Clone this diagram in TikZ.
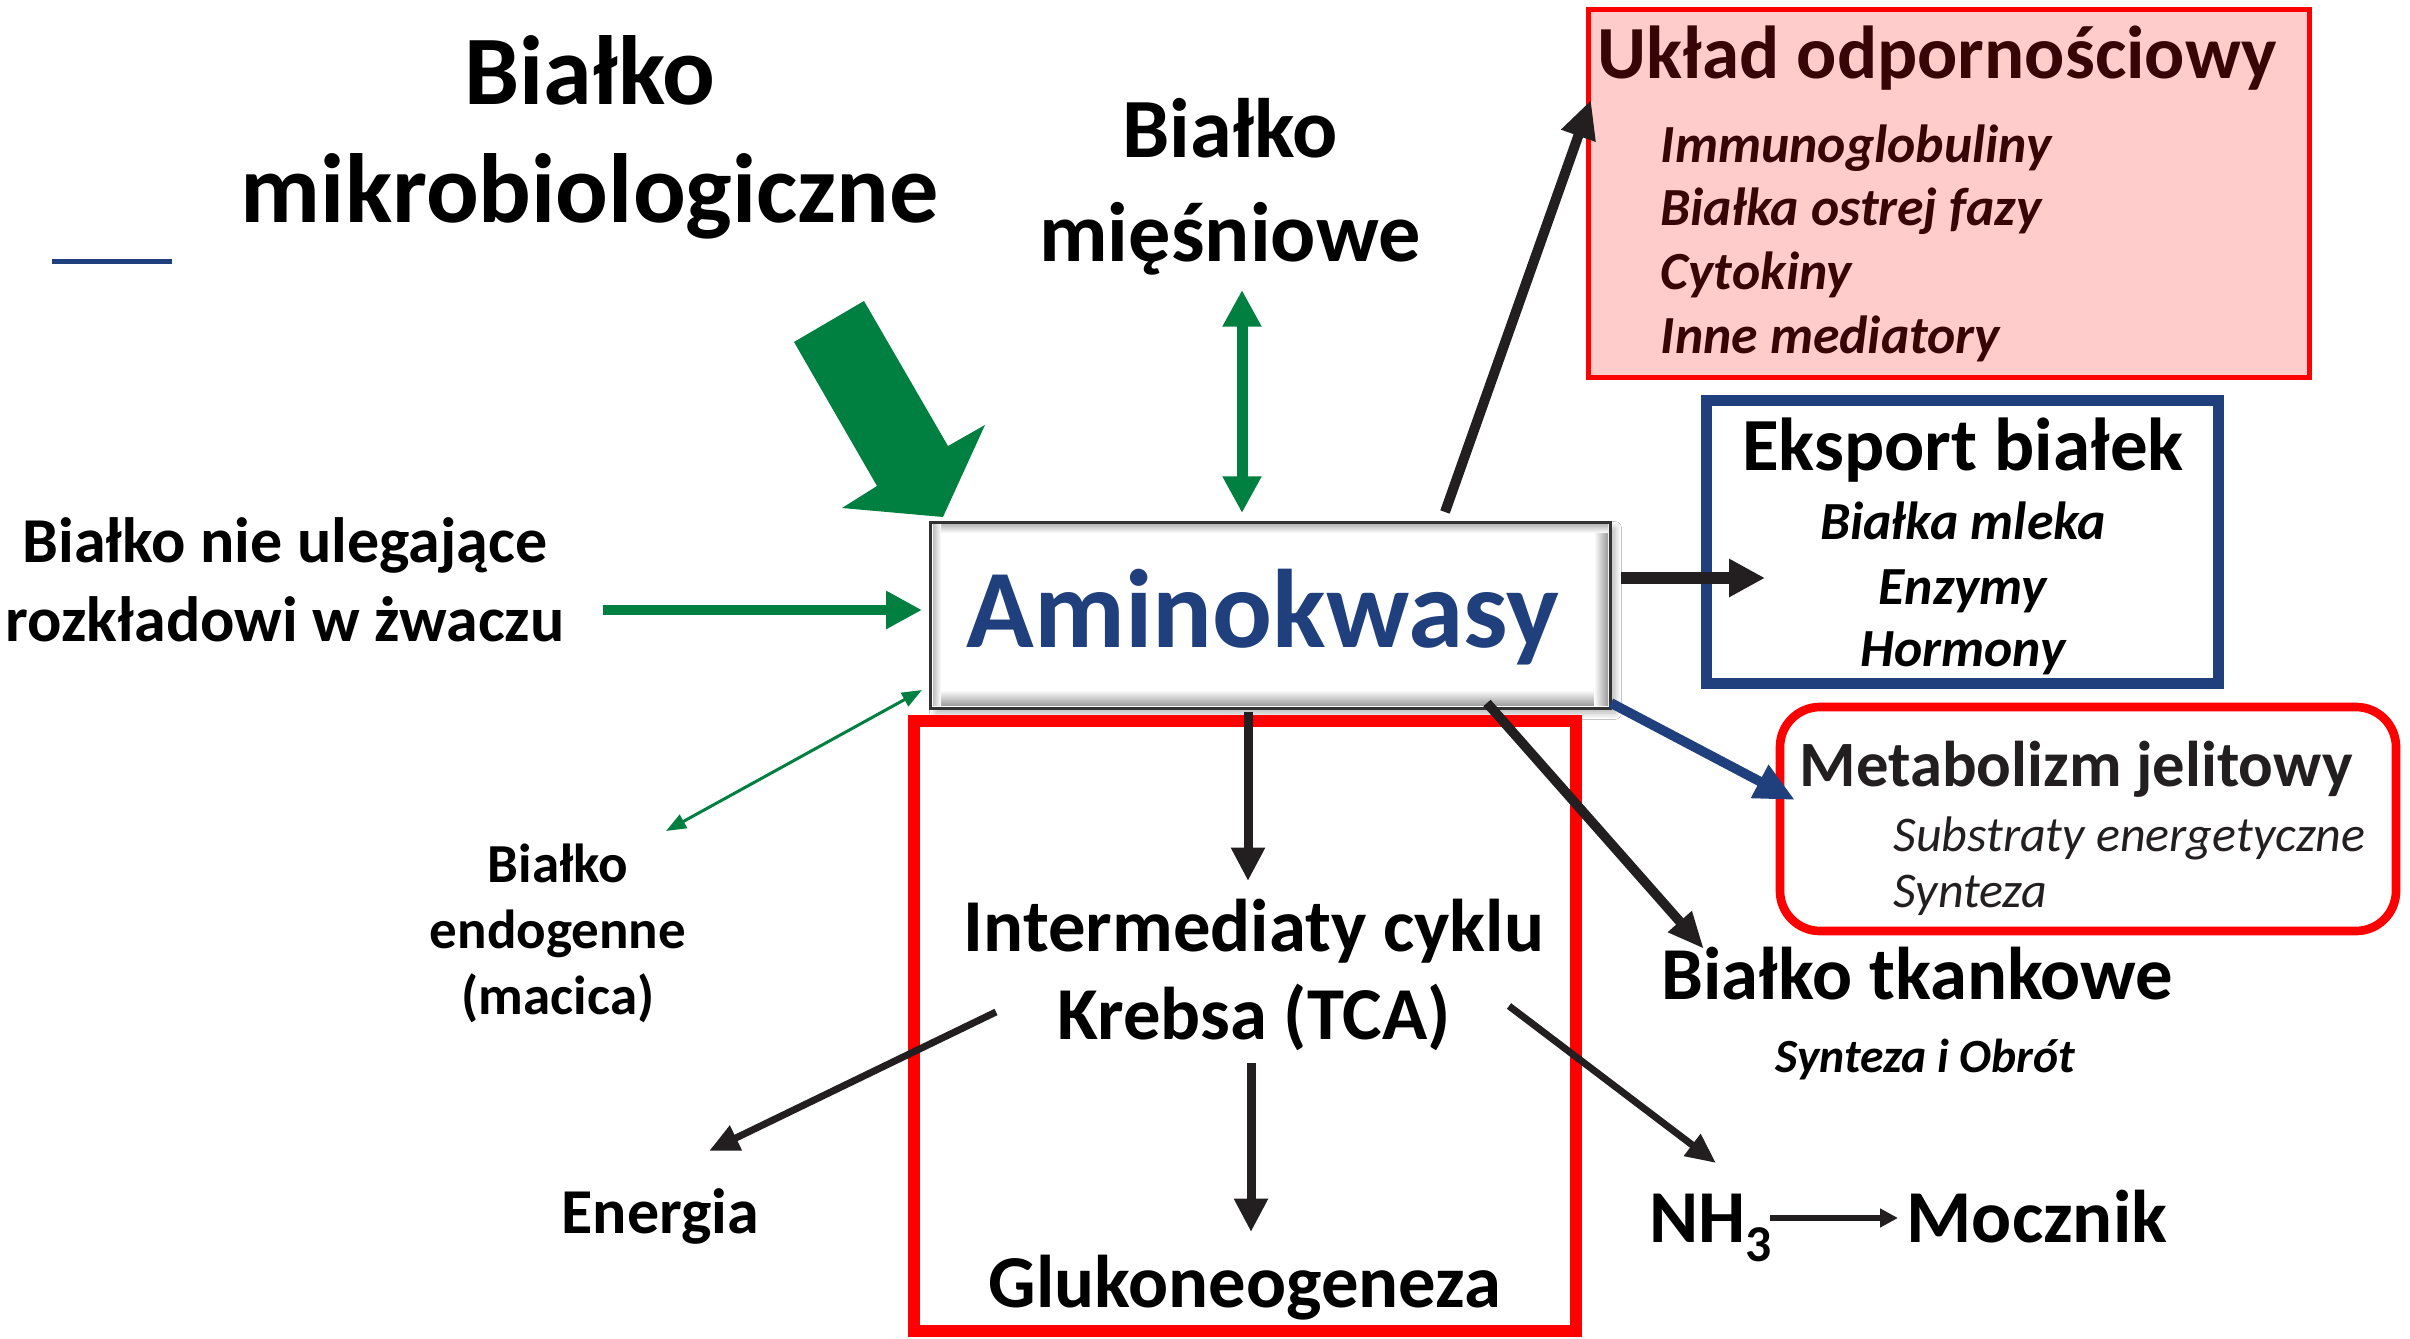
\documentclass[tikz,border=0pt]{standalone}
\usepackage{fontspec}
\setmainfont{Carlito}
\usetikzlibrary{arrows.meta,shadows.blur,calc}

\definecolor{grn}{RGB}{0,128,64}
\definecolor{ink}{RGB}{35,31,32}
\definecolor{navy}{RGB}{31,64,124}
\definecolor{pinkfill}{RGB}{255,204,204}
\definecolor{maroon}{RGB}{55,5,5}
\definecolor{rd}{RGB}{255,0,0}

% font size helper: size in pt, leading equal to size
\newcommand{\pxsz}[1]{\fontsize{#1}{#1}\selectfont}

\begin{document}
\begin{tikzpicture}[x=0.3pt,y=-0.3pt,
  txt/.style={inner sep=0pt, anchor=base},
  txtw/.style={inner sep=0pt, anchor=base west},
  fTitle/.style={font=\pxsz{29.5}\bfseries},
  fMus/.style={font=\pxsz{25.3}\bfseries},
  fIn/.style={font=\pxsz{19.2}\bfseries},
  fEndo/.style={font=\pxsz{16.5}\bfseries},
  fMid/.style={font=\pxsz{22.4}\bfseries},
  fHead/.style={font=\pxsz{22.5}\bfseries},
  fItem/.style={font=\pxsz{16.1}\bfseries\itshape},
  fMet/.style={font=\pxsz{19.4}\bfseries},
  fSub/.style={font=\pxsz{15}\itshape},
  fObr/.style={font=\pxsz{14.3}\bfseries\itshape},
  garrow/.style={draw=grn, line width=3pt, -{Triangle[length=10.8pt,width=10.8pt]}},
  gdouble/.style={draw=grn, line width=3.3pt, {Triangle[length=11pt,width=11pt]}-{Triangle[length=11pt,width=11pt]}},
  gthin/.style={draw=grn, line width=0.9pt, {Triangle[length=6pt,width=4.5pt]}-{Triangle[length=6pt,width=4.5pt]}},
  karrow/.style={draw=ink, line width=2.7pt, -{Triangle[length=10pt,width=9.6pt]}},
  kthin/.style={draw=ink, line width=2.1pt, -{Triangle[length=9pt,width=7.8pt]}},
  kdiag/.style={draw=ink, line width=2.9pt, -{Triangle[length=11pt,width=8.8pt]}},
  kup/.style={draw=ink, line width=3pt, -{Triangle[length=11.4pt,width=10.2pt]}},
  kwide/.style={draw=ink, line width=3.6pt, -{Triangle[length=10.8pt,width=10.8pt]}},
  ksmall/.style={draw=ink, line width=1.8pt, -{Triangle[length=5.4pt,width=5.4pt]}},
  barrow/.style={draw=navy, line width=2.9pt, -{Triangle[length=12pt,width=10.5pt]}},
  amibox/.style={fill=white, inner sep=0pt, minimum width=203.7pt, minimum height=55.5pt,
    blur shadow={shadow xshift=1.5pt, shadow yshift=-1.5pt, shadow blur steps=6, shadow opacity=30}},
]
\useasboundingbox (0,0) rectangle (2410,1339);
\fill[white] (0,0) rectangle (2410,1339);

% ---- source of microbial protein ----
\node[txt, fTitle] (mikA) at (590,105) {Białko};
\node[txt, fTitle] (mikB) at (590,223) {mikrobiologiczne};
\draw[navy, line width=1.5pt] (52,262) -- (172,262);
\fill[grn] (794,342) -- (864,301) -- (948,446) -- (985,425) -- (943,517)
  -- (842,508) -- (877,486) -- cycle;

% ---- muscle protein ----
\node[txt, fMus] (musA) at (1230,158) {Białko};
\node[txt, fMus] (musB) at (1230,262) {mięśniowe};

% ---- rumen bypass protein ----
\node[txt, fIn] (byA) at (285,563) {Białko nie ulegające};
\node[txt, fIn] (byB) at (285,642) {rozkładowi w żwaczu};

% ---- endogenous protein ----
\node[txt, fEndo] (enA) at (558,883) {Białko};
\node[txt, fEndo] (enB) at (558,949) {endogenne};
\node[txt, fEndo] (enC) at (558,1015) {(macica)};

% ---- central box: amino acids ----
\node[amibox] (amino) at (1270.5,615.5) {};
\shade[top color=white, bottom color=black!40] (933,690) rectangle (1608,706);
\shade[left color=white, right color=black!40] (1594,525) rectangle (1608,706);
\shade[top color=black!25, bottom color=white] (933,525) rectangle (1608,533);
\shade[left color=black!25, right color=white] (933,525) rectangle (941,706);
\draw[black!80, line width=0.9pt] (amino.south west) rectangle (amino.north east);
\node[txt, font=\pxsz{33.5}\bfseries, text=navy] (aminoTxt) at (1263,648) {Aminokwasy};

% ---- TCA block ----
\draw[rd, line width=3.5pt] (914,721) rectangle (1576,1331);
\node[txt, fMid] (tcaA) at (1254,952) {Intermediaty cyklu};
\node[txt, fMid] (tcaB) at (1254,1040) {Krebsa (TCA)};
\node[txt, fMid] (gluk) at (1245,1308) {Glukoneogeneza};
\node[txtw, font=\pxsz{19.2}\bfseries] (energ) at (561,1234) {Energia};

% ---- immune system ----
\draw[rd, line width=1.5pt, fill=pinkfill] (1588,10) rectangle (2309,378);
\node[txtw, fHead, text=maroon] (imm) at (1597,79) {Układ odpornościowy};
\node[txtw, fItem, text=maroon] (imm1) at (1660,163) {Immunoglobuliny};
\node[txtw, fItem, text=maroon] (imm2) at (1660,226) {Białka ostrej fazy};
\node[txtw, fItem, text=maroon] (imm3) at (1660,290) {Cytokiny};
\node[txtw, fItem, text=maroon] (imm4) at (1660,354) {Inne mediatory};

% ---- protein export ----
\draw[navy, line width=3.3pt] (1706,401) rectangle (2218,684);
\node[txt, fHead] (exp) at (1963,471) {Eksport białek};
\node[txt, fItem] (exp1) at (1963,540) {Białka mleka};
\node[txt, fItem] (exp2) at (1963,605) {Enzymy};
\node[txt, fItem] (exp3) at (1963,667) {Hormony};

% ---- gut metabolism ----
\draw[rd, line width=2.6pt, rounded corners=12pt] (1780,707) rectangle (2396,931);
\node[txtw, fMet, text=ink] (gut) at (1799,787) {Metabolizm jelitowy};
\node[txtw, fSub, text=ink] (gut1) at (1893,852) {Substraty energetyczne};
\node[txtw, fSub, text=ink] (gut2) at (1893,908) {Synteza};

% ---- tissue protein ----
\node[txtw, fMid] (tis) at (1661,1000) {Białko tkankowe};
\node[txtw, fObr] (tis1) at (1775,1073) {Synteza i Obrót};

% ---- ammonia and urea ----
\node[txtw, fMid] (nh) at (1649,1243) {NH\raisebox{-5.7pt}{\pxsz{15.5}3}};
\node[txtw, fMid] (urea) at (1906,1243) {Mocznik};

% ---- connector end points ----
\coordinate (byEnd) at (603,610);
\coordinate (aW) at (922,610);
\coordinate (musEnd) at (1242,290);
\coordinate (aN) at (1242,513);
\coordinate (aSW) at (922,690);
\coordinate (enEnd) at (666,831);
\coordinate (aS) at (1248,712);
\coordinate (tcaTop) at (1248,881);
\coordinate (tcaBot) at (1251,1063);
\coordinate (glukTop) at (1251,1232);
\coordinate (tcaL) at (996,1012);
\coordinate (enrgTip) at (709,1151);
\coordinate (tcaR) at (1509,1006);
\coordinate (nhTip) at (1716,1163);
\coordinate (aSE) at (1487,703);
\coordinate (tisTip) at (1704,949);
\coordinate (aCorner) at (1611,703);
\coordinate (gutTip) at (1795,800);
\coordinate (aNE) at (1445,512);
\coordinate (immTip) at (1591,100);
\coordinate (aE) at (1621,578);
\coordinate (expTip) at (1765,578);
\coordinate (nhR) at (1770,1218);
\coordinate (ureaL) at (1898,1218);

% ---- connectors ----
\draw[garrow] (byEnd) -- (aW);
\draw[gdouble] (musEnd) -- (aN);
\draw[gthin] (aSW) -- (enEnd);
\draw[karrow] (aS) -- (tcaTop);
\draw[karrow] (tcaBot) -- (glukTop);
\draw[kthin] (tcaL) -- (enrgTip);
\draw[kthin] (tcaR) -- (nhTip);
\draw[kdiag] (aSE) -- (tisTip);
\draw[barrow] (aCorner) -- (gutTip);
\draw[kup] (aNE) -- (immTip);
\draw[kwide] (aE) -- (expTip);
\draw[ksmall] (nhR) -- (ureaL);
\end{tikzpicture}
\end{document}
